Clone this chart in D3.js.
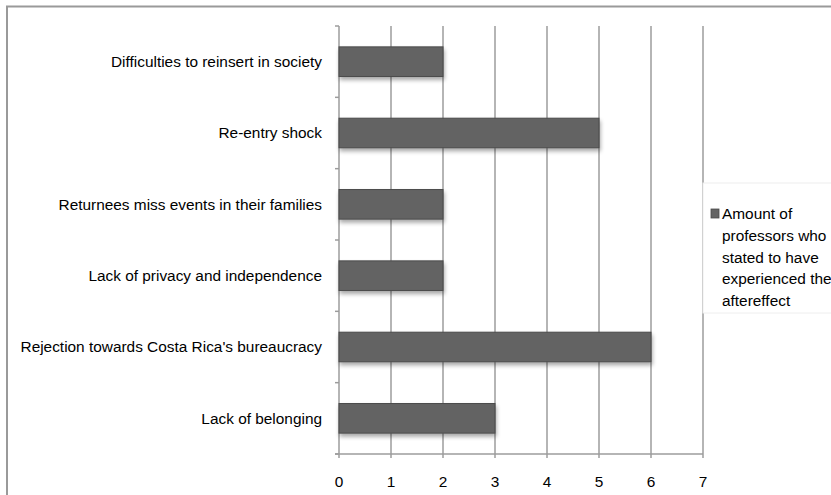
<!DOCTYPE html>
<html>
<head>
<meta charset="utf-8">
<script src="https://cdn.jsdelivr.net/npm/d3@7"></script>
<style>
  html, body { margin: 0; padding: 0; background: #fff; }
  svg { display: block; font-family: "Liberation Sans", Arial, Helvetica, sans-serif; }
</style>
</head>
<body>
<svg id="chart" width="831" height="495"></svg>
<script>
// Aftereffects reported by returning professors
const categories = [
  "Difficulties to reinsert in society",
  "Re-entry shock",
  "Returnees miss events in their families",
  "Lack of privacy and independence",
  "Rejection towards Costa Rica's bureaucracy",
  "Lack of belonging"
];
const values = [2, 5, 2, 2, 6, 3];
const xTicks = [0, 1, 2, 3, 4, 5, 6, 7];
const legendLines = ["Amount of", "professors who", "stated to have", "experienced the", "aftereffect"];

const svg = d3.select("#chart");
const plot = { left: 339, right: 703, top: 26, bottom: 454 };

// outer frame (top and left edges visible)
svg.append("path")
  .attr("d", "M7,495 L7,6.5 L831,6.5")
  .attr("fill", "none").attr("stroke", "#9a9a9a").attr("stroke-width", 2);

const defs = svg.append("defs");
const shadow = defs.append("filter").attr("id", "barShadow")
  .attr("x", "-5%").attr("y", "-20%").attr("width", "115%").attr("height", "160%");
shadow.append("feGaussianBlur").attr("in", "SourceAlpha").attr("stdDeviation", 2).attr("result", "blur");
shadow.append("feOffset").attr("in", "blur").attr("dx", 1).attr("dy", 3).attr("result", "off");
shadow.append("feComponentTransfer").attr("in", "off").attr("result", "soft")
  .append("feFuncA").attr("type", "linear").attr("slope", 0.35);
const merge = shadow.append("feMerge");
merge.append("feMergeNode").attr("in", "soft");
merge.append("feMergeNode").attr("in", "SourceGraphic");

const x = d3.scaleLinear().domain([0, 7]).range([plot.left, plot.right]);
const y = d3.scaleBand().domain(categories).range([plot.top, plot.bottom]).paddingInner(0.585).paddingOuter(0.2925);
const yEdges = d3.scaleLinear().domain([0, categories.length]).range([plot.top, plot.bottom]);

// vertical gridlines
svg.append("g").selectAll("line").data(xTicks.slice(1)).join("line")
  .attr("x1", d => x(d)).attr("x2", d => x(d))
  .attr("y1", plot.top).attr("y2", plot.bottom + 4)
  .attr("stroke", "#9c9c9c").attr("stroke-width", 1.5);

// category axis line with tick marks at band edges
svg.append("line")
  .attr("x1", x(0)).attr("x2", x(0)).attr("y1", plot.top).attr("y2", plot.bottom + 4)
  .attr("stroke", "#9c9c9c").attr("stroke-width", 1.5);
svg.append("g").selectAll("line").data(d3.range(categories.length + 1)).join("line")
  .attr("x1", x(0) - 4).attr("x2", x(0))
  .attr("y1", d => yEdges(d)).attr("y2", d => yEdges(d))
  .attr("stroke", "#9c9c9c").attr("stroke-width", 1.5);

// value axis line
svg.append("line")
  .attr("x1", x(0) - 4).attr("x2", x(7)).attr("y1", plot.bottom).attr("y2", plot.bottom)
  .attr("stroke", "#9c9c9c").attr("stroke-width", 1.5);

// bars
svg.append("g").selectAll("rect").data(categories).join("rect")
  .attr("x", x(0))
  .attr("y", d => y(d))
  .attr("width", (d, i) => x(values[i]) - x(0))
  .attr("height", y.bandwidth())
  .attr("fill", "#646464")
  .attr("stroke", "#4a4a4a").attr("stroke-width", 1)
  .attr("filter", "url(#barShadow)");

// category labels
svg.append("g").selectAll("text").data(categories).join("text")
  .attr("x", 322)
  .attr("y", d => y(d) + y.bandwidth() / 2)
  .attr("dy", "0.35em")
  .attr("text-anchor", "end")
  .attr("font-size", 15.4)
  .attr("fill", "#000")
  .text(d => d);

// value tick labels
svg.append("g").selectAll("text").data(xTicks).join("text")
  .attr("x", d => x(d))
  .attr("y", 482)
  .attr("dy", "0.35em")
  .attr("text-anchor", "middle")
  .attr("font-size", 15.4)
  .attr("fill", "#000")
  .text(d => d);

// legend
const legend = svg.append("g");
legend.append("rect")
  .attr("x", 703).attr("y", 183).attr("width", 140).attr("height", 130)
  .attr("fill", "#fff").attr("stroke", "#eeeeee").attr("stroke-width", 1);
legend.append("rect")
  .attr("x", 711).attr("y", 209).attr("width", 8).attr("height", 9)
  .attr("fill", "#646464").attr("stroke", "#4a4a4a").attr("stroke-width", 0.8);
legend.append("g").selectAll("text").data(legendLines).join("text")
  .attr("x", 722)
  .attr("y", (d, i) => 214 + i * 21.6)
  .attr("dy", "0.35em")
  .attr("font-size", 15.4)
  .attr("fill", "#000")
  .text(d => d);
</script>
</body>
</html>
